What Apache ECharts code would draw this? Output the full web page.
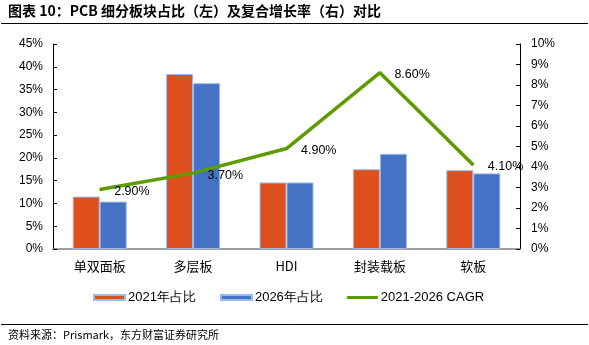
<!DOCTYPE html>
<html><head><meta charset="utf-8">
<script src="https://cdn.jsdelivr.net/npm/echarts@6/dist/echarts.min.js"></script>
<style>html,body{margin:0;padding:0;background:#fff;}#c{width:589px;height:345px;}</style>
</head><body><div id="c"></div>
<script>
const categories = ['单双面板', '多层板', 'HDI', '封装载板', '软板'];
const share2021 = [11.5, 38.4, 14.6, 17.5, 17.3];
const share2026 = [10.4, 36.4, 14.6, 20.9, 16.6];
const cagr = [2.9, 3.7, 4.9, 8.6, 4.1];
const leftTicks = [0, 45, 5];
const rightTicks = [0, 10, 1];
const seriesNames = ['2021年占比', '2026年占比', '2021-2026 CAGR'];
const titleText = '图表 10：PCB 细分板块占比（左）及复合增长率（右）对比';
const sourceText = '资料来源：Prismark，东方财富证券研究所';

const numFont = '"Liberation Sans", Arial, sans-serif';
const cjkFont = '"Noto Sans CJK SC", sans-serif';
const chart = echarts.init(document.getElementById('c'));
chart.setOption({
  animation: false,
  backgroundColor: '#fff',
  graphic: [
    {type: 'text', left: 8, top: 4, style: {text: titleText, font: 'bold 14px ' + cjkFont, fill: '#000'}},
    {type: 'line', shape: {x1: 1, y1: 23.5, x2: 588, y2: 23.5}, style: {stroke: '#000', lineWidth: 1}},
    {type: 'line', shape: {x1: 1, y1: 324.5, x2: 588, y2: 324.5}, style: {stroke: '#000', lineWidth: 1}},
    {type: 'text', left: 8, top: 329, style: {text: sourceText, font: '11px ' + cjkFont, fill: '#000'}}
  ],
  grid: {left: 53, right: 69, top: 44, bottom: 96, containLabel: false},
  legend: {
    bottom: 36, left: 88, itemWidth: 31, itemHeight: 5, itemGap: 24,
    textStyle: {fontFamily: numFont, fontSize: 13, color: '#000', padding: [0, 0, 0, -2]},
    data: [
      {name: seriesNames[0], icon: 'rect'},
      {name: seriesNames[1], icon: 'rect'},
      {name: seriesNames[2], icon: 'path://M0,0 L31,0 L31,3 L0,3 Z'}
    ]
  },
  xAxis: {
    type: 'category', data: categories,
    axisLine: {lineStyle: {color: '#7f7f7f', width: 1.5}},
    axisTick: {inside: true, length: 4, lineStyle: {color: '#000'}},
    axisLabel: {fontFamily: cjkFont, fontSize: 13, color: '#000', margin: 11}
  },
  yAxis: [
    {type: 'value', min: leftTicks[0], max: leftTicks[1], interval: leftTicks[2],
     axisLine: {show: true, lineStyle: {color: '#000'}},
     axisTick: {show: true, inside: true, length: 4, lineStyle: {color: '#000'}},
     splitLine: {show: false},
     axisLabel: {formatter: '{value}%', fontFamily: numFont, fontSize: 12, color: '#000', margin: 10}},
    {type: 'value', min: rightTicks[0], max: rightTicks[1], interval: rightTicks[2], position: 'right',
     axisLine: {show: true, lineStyle: {color: '#000'}},
     axisTick: {show: true, inside: true, length: 4, lineStyle: {color: '#000'}},
     splitLine: {show: false},
     axisLabel: {formatter: '{value}%', fontFamily: numFont, fontSize: 12, color: '#000', margin: 11}}
  ],
  series: [
    {name: seriesNames[0], type: 'bar', data: share2021, barWidth: 27, barGap: '0%',
     itemStyle: {color: '#DE4F1E', borderColor: '#9DB9E6', borderWidth: 1}},
    {name: seriesNames[1], type: 'bar', data: share2026, barWidth: 27, barGap: '0%',
     itemStyle: {color: '#4472C4', borderColor: '#9DB9E6', borderWidth: 1}},
    {name: seriesNames[2], type: 'line', yAxisIndex: 1, data: cagr, symbol: 'circle', symbolSize: 1,
     showSymbol: true,
     lineStyle: {color: '#5E9B00', width: 3.5}, itemStyle: {color: '#5E9B00'},
     label: {show: true, position: 'right', distance: 14, offset: [0, 2],
       formatter: p => p.value.toFixed(2) + '%', fontFamily: numFont, fontSize: 12.5, color: '#000'}}
  ]
});
</script></body></html>
